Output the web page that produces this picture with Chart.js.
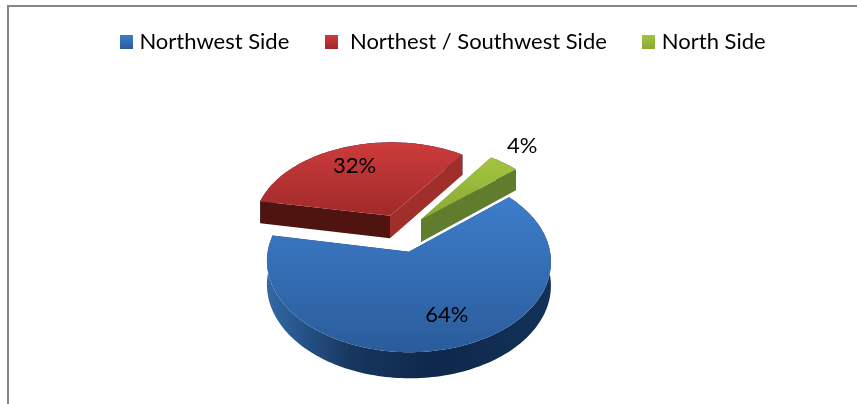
<!DOCTYPE html>
<html>
<head>
<meta charset="utf-8">
<style>
  html, body { margin: 0; padding: 0; background: #fff; }
  #wrap { width: 857px; height: 404px; }
</style>
</head>
<body>
<div id="wrap"><canvas id="chart" width="857" height="404"></canvas></div>
<script src="https://cdn.jsdelivr.net/npm/chart.js@4/dist/chart.umd.js"></script>
<script>
const categories = ["Northwest Side", " Northest / Southwest Side", "North Side"];
const shares = [64, 32, 4];

// --- look of each slice, same order as the categories ---
const topColors = [["#3d7dca", "#2a5c9b"], ["#cd3b3b", "#a12a2a"], ["#a3c43f", "#89a935"]];
const cutColors = [["#1b3d68", "#1b3d68"], ["#4f1410", "#a02e2b"], ["#6d8d33", "#607c2d"]];
const drawOrder = [1, 2, 0];
const labelSpots = [{ turn: -6, reach: 96 }, { turn: -2, reach: 98 }, { turn: -2, reach: 181 }];

// --- tilted pie ---
const CX = 401, CY = 233;
const TILT = 0.63, DEPTH = 0.11, WALL = 23;
const FONT = 'Lato, sans-serif';

function project(u, v, R) {
    const p = 1 + DEPTH * v / R;
    return { x: CX + u * p, y: CY + v * TILT * p, p };
}

function rimPoints(arc) {
    const R = arc.outerRadius, off = arc.options.offset;
    const mid = (arc.startAngle + arc.endAngle) / 2;
    const ou = Math.cos(mid) * off, ov = Math.sin(mid) * off;
    const rim = [];
    const steps = Math.ceil((arc.endAngle - arc.startAngle) * 40);
    for (let i = 0; i <= steps; i++) {
        const a = arc.startAngle + (arc.endAngle - arc.startAngle) * i / steps;
        rim.push(project(ou + Math.cos(a) * R, ov + Math.sin(a) * R, R));
    }
    return { apex: project(ou, ov, R), rim };
}

function tracePath(ctx, pts) {
    ctx.beginPath();
    pts.forEach((q, i) => i ? ctx.lineTo(q.x, q.y) : ctx.moveTo(q.x, q.y));
    ctx.closePath();
}

function wallDown(q) { return { x: q.x, y: q.y + WALL * q.p }; }

function drawSlice(ctx, arc, i) {
    const { apex, rim } = rimPoints(arc);
    const first = rim[0], last = rim[rim.length - 1];
    const ys = rim.map(q => q.y).concat(apex.y);
    const xs = rim.map(q => q.x).concat(apex.x);
    const xMin = Math.min(...xs), xMax = Math.max(...xs);

    // outer wall, darkest along the front
    const side = ctx.createLinearGradient(xMin, 0, xMax, 0);
    side.addColorStop(0, "#3268a3");
    side.addColorStop(0.12, "#27548a");
    side.addColorStop(0.3, "#17365e");
    side.addColorStop(0.6, "#0e274a");
    side.addColorStop(1, "#133259");
    ctx.fillStyle = side;
    tracePath(ctx, rim.concat(rim.map(wallDown).reverse()));
    ctx.fill();

    // the two cut faces
    ctx.fillStyle = cutColors[i][0];
    tracePath(ctx, [apex, first, wallDown(first), wallDown(apex)]);
    ctx.fill();
    ctx.fillStyle = cutColors[i][1];
    tracePath(ctx, [apex, last, wallDown(last), wallDown(apex)]);
    ctx.fill();

    // top face
    const face = ctx.createLinearGradient(0, Math.min(...ys), 0, Math.max(...ys));
    face.addColorStop(0, topColors[i][0]);
    face.addColorStop(1, topColors[i][1]);
    ctx.fillStyle = face;
    tracePath(ctx, [apex].concat(rim));
    ctx.fill();
}

function drawPercent(ctx, arc, i, total) {
    const off = arc.options.offset;
    const mid = (arc.startAngle + arc.endAngle) / 2;
    const a = mid + labelSpots[i].turn * Math.PI / 180;
    const r = labelSpots[i].reach;
    const q = project(Math.cos(mid) * off + Math.cos(a) * r, Math.sin(mid) * off + Math.sin(a) * r, arc.outerRadius);
    ctx.fillStyle = "#000";
    ctx.font = "22px " + FONT;
    ctx.textAlign = "center";
    ctx.textBaseline = "middle";
    ctx.fillText(Math.round(shares[i] / total * 100) + "%", q.x, q.y);
}

const tiltedPie = {
    id: 'tiltedPie',
    beforeDraw(chart) {
        const ctx = chart.ctx;
        ctx.save();
        ctx.strokeStyle = "#868686";
        ctx.lineWidth = 2;
        ctx.beginPath();
        ctx.moveTo(8, 404);
        ctx.lineTo(8, 6);
        ctx.lineTo(857, 6);
        ctx.stroke();
        ctx.restore();
    },
    beforeDatasetDraw(chart) {
        const ctx = chart.ctx;
        const arcs = chart.getDatasetMeta(0).data;
        const total = shares.reduce((s, v) => s + v, 0);
        ctx.save();
        drawOrder.forEach(i => drawSlice(ctx, arcs[i], i));
        arcs.forEach((arc, i) => drawPercent(ctx, arc, i, total));
        ctx.restore();
        return false;
    }
};

function swatch(colors) {
    const c = document.createElement('canvas');
    c.width = 13; c.height = 14;
    const g = c.getContext('2d');
    const grad = g.createLinearGradient(0, 0, 0, 14);
    grad.addColorStop(0, colors[0]);
    grad.addColorStop(1, colors[1]);
    g.fillStyle = grad;
    g.fillRect(0, 0, 13, 14);
    return c;
}

new Chart(document.getElementById('chart'), {
    type: 'pie',
    data: {
        labels: categories,
        datasets: [{
            data: shares,
            backgroundColor: topColors.map(c => c[0]),
            borderWidth: 0,
            offset: 30
        }]
    },
    plugins: [tiltedPie],
    options: {
        responsive: false,
        animation: false,
        rotation: 50,
        radius: 138,
        layout: { padding: { left: 33, top: -9 } },
        plugins: {
            tooltip: { enabled: false },
            legend: {
                position: 'top',
                labels: {
                    usePointStyle: true,
                    pointStyleWidth: 4,
                    padding: 40,
                    color: "#000",
                    font: { family: FONT, size: 22 },
                    generateLabels: chart => chart.data.labels.map((text, i) => ({
                        text,
                        index: i,
                        lineWidth: 0,
                        fontColor: "#000",
                        pointStyle: swatch(topColors[i])
                    }))
                }
            }
        }
    }
});
</script>
</body>
</html>
